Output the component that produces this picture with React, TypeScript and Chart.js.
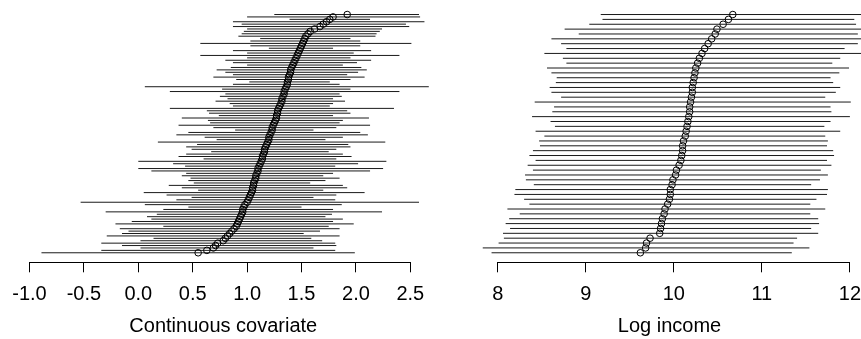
import React, { useEffect, useRef } from "react";
import { Chart, registerables } from "chart.js";

Chart.register(...registerables);

// ---------- Left panel: continuous covariate (rows 1 = bottom .. 100 = top) ----------
const covEst = [
  0.55, 0.63, 0.69, 0.71, 0.73, 0.78, 0.8, 0.82, 0.84, 0.86,
  0.88, 0.9, 0.91, 0.92, 0.93, 0.94, 0.95, 0.96, 0.96, 0.97,
  0.98, 1.0, 1.01, 1.02, 1.03, 1.04, 1.05, 1.05, 1.06, 1.06,
  1.07, 1.08, 1.08, 1.09, 1.1, 1.1, 1.11, 1.12, 1.13, 1.14,
  1.14, 1.15, 1.16, 1.16, 1.17, 1.18, 1.19, 1.2, 1.2, 1.21,
  1.22, 1.23, 1.23, 1.24, 1.25, 1.26, 1.27, 1.27, 1.28, 1.28,
  1.29, 1.3, 1.31, 1.32, 1.32, 1.33, 1.34, 1.34, 1.35, 1.36,
  1.37, 1.37, 1.38, 1.38, 1.39, 1.4, 1.4, 1.41, 1.42, 1.43,
  1.44, 1.45, 1.46, 1.47, 1.48, 1.49, 1.5, 1.51, 1.52, 1.53,
  1.54, 1.56, 1.58, 1.62, 1.67, 1.7, 1.73, 1.76, 1.79, 1.92,
];
const covLow = [
  -0.89, -0.34, 0.02, -0.15, -0.34, 0.02, 0.14, -0.29, -0.15, -0.09,
  -0.17, 0.23, -0.21, -0.06, 0.12, 0.08, 0.17, -0.3, 0.23, 0.46,
  0.06, -0.53, 0.35, 0.49, 0.26, 0.05, 0.55, 0.4, 0.28, 0.51,
  0.46, 0.48, 0.4, 0.44, 0.12, 0.0, 0.43, 0.32, 0.0, 0.6,
  0.37, 0.44, 0.67, 0.49, 0.44, 0.54, 0.18, 0.72, 0.61, 0.35,
  0.46, 0.89, 0.69, 0.37, 0.66, 0.64, 0.4, 0.74, 0.65, 0.63,
  0.29, 0.87, 0.84, 0.71, 0.82, 0.75, 0.8, 0.29, 0.77, 0.06,
  0.87, 1.02, 0.9, 0.69, 0.87, 0.8, 0.72, 0.85, 1.0, 0.87,
  0.8, 1.0, 0.57, 1.0, 0.87, 1.2, 1.03, 0.57, 1.03, 1.12,
  0.92, 0.95, 0.97, 1.0, 0.87, 0.95, 0.87, 1.39, 1.0, 1.25,
];
const covHigh = [
  1.99, 1.81, 1.61, 1.82, 1.81, 1.69, 1.59, 1.85, 1.52, 1.67,
  1.85, 1.75, 1.98, 1.79, 1.88, 1.72, 1.78, 2.24, 1.79, 1.5,
  1.87, 2.58, 1.81, 1.61, 1.82, 2.08, 1.7, 1.92, 1.88, 1.58,
  1.72, 1.85, 1.7, 1.79, 2.13, 2.25, 1.81, 2.02, 2.28, 1.82,
  1.96, 1.88, 1.75, 1.82, 1.95, 1.93, 2.27, 1.72, 1.88, 2.11,
  2.04, 1.61, 1.82, 2.13, 1.85, 1.88, 2.12, 1.79, 1.95, 1.92,
  2.35, 1.76, 1.79, 1.9, 1.79, 1.87, 1.85, 2.4, 1.95, 2.67,
  1.85, 1.76, 1.95, 2.08, 1.92, 2.02, 2.1, 2.05, 1.88, 2.01,
  2.14, 1.95, 2.4, 1.98, 2.14, 1.79, 2.04, 2.51, 2.04, 1.95,
  2.18, 2.19, 2.22, 2.24, 2.49, 2.46, 2.63, 2.13, 2.59, 2.58,
];
const covTicks = [-1.0, -0.5, 0.0, 0.5, 1.0, 1.5, 2.0, 2.5];
const covTitle = "Continuous covariate";

// ---------- Right panel: log income (rows 1 = bottom .. 50 = top) ----------
const incEst = [
  9.62, 9.68, 9.69, 9.73, 9.84, 9.85, 9.86, 9.87, 9.89, 9.9,
  9.93, 9.95, 9.96, 9.96, 9.98, 9.99, 10.02, 10.03, 10.06, 10.08,
  10.09, 10.1, 10.1, 10.11, 10.13, 10.14, 10.15, 10.16, 10.17, 10.18,
  10.18, 10.19, 10.2, 10.21, 10.21, 10.22, 10.23, 10.24, 10.25, 10.27,
  10.29, 10.32, 10.35, 10.39, 10.43, 10.47, 10.49, 10.56, 10.62, 10.67,
];
const incLow = [
  7.93, 7.83, 8.01, 8.07, 8.06, 8.14, 8.09, 8.13, 8.25, 8.11,
  8.36, 8.3, 8.19, 8.2, 8.41, 8.32, 8.31, 8.4, 8.34, 8.43,
  8.36, 8.4, 8.48, 8.47, 8.53, 8.43, 8.65, 8.6, 8.39, 8.62,
  8.64, 8.42, 8.72, 8.61, 8.59, 8.66, 8.67, 8.61, 8.56, 8.78,
  8.74, 8.53, 8.78, 8.72, 8.61, 8.92, 8.76, 9.04, 9.19, 9.17,
];
const incHigh = [
  11.34, 11.54, 11.36, 11.4, 11.64, 11.56, 11.65, 11.64, 11.55, 11.72,
  11.55, 11.62, 11.74, 11.75, 11.56, 11.66, 11.75, 11.67, 11.79, 11.74,
  11.82, 11.81, 11.74, 11.75, 11.72, 11.89, 11.71, 11.78, 12.0, 11.79,
  11.78, 12.01, 11.72, 11.84, 11.89, 11.81, 11.78, 11.88, 11.99, 11.8,
  11.89, 12.16, 11.94, 12.09, 12.24, 12.09, 12.21, 12.07, 12.05, 12.18,
];
const incTicks = [8, 9, 10, 11, 12];
const incTitle = "Log income";

const FONT = "'Liberation Sans', Arial, Helvetica, sans-serif";

function alignPx(p: number, w: number) {
  const h = w / 2;
  return Math.round(p - h) + h;
}

// R-style axis line: drawn only between the first and last tick
const rAxisLine = {
  id: "rAxisLine",
  afterDraw(chart: any) {
    const s = chart.scales.x;
    if (!s || !s.ticks || !s.ticks.length) return;
    const ctx = chart.ctx;
    const x0 = alignPx(s.getPixelForValue(s.ticks[0].value), 1);
    const x1 = alignPx(s.getPixelForValue(s.ticks[s.ticks.length - 1].value), 1);
    const y = alignPx(s.top, 1);
    ctx.save();
    ctx.strokeStyle = "#000";
    ctx.lineWidth = 1;
    ctx.beginPath();
    ctx.moveTo(x0 - 0.5, y);
    ctx.lineTo(x1 + 0.5, y);
    ctx.stroke();
    ctx.restore();
  },
};

type PanelProps = {
  est: number[];
  low: number[];
  high: number[];
  ticks: number[];
  decimals: number;
  title: string;
  xMin: number;
  xMax: number;
  left: number;
  width: number;
  padLeft: number;
  padRight: number;
};

function Panel(p: PanelProps) {
  const ref = useRef<HTMLCanvasElement | null>(null);
  useEffect(() => {
    if (!ref.current) return;
    const n = p.est.length;
    const ext = (n - 1) * 0.04;
    const segs: any[] = [];
    p.low.forEach((l, i) => {
      segs.push({ x: l, y: i + 1 }, { x: p.high[i], y: i + 1 }, { x: null, y: null });
    });
    const pts = p.est.map((v, i) => ({ x: v, y: i + 1 }));
    const chart = new Chart(ref.current, {
      type: "scatter",
      data: {
        datasets: [
          {
            data: pts,
            showLine: false,
            pointRadius: 3.3,
            pointStyle: "circle",
            pointBorderColor: "#000",
            pointBackgroundColor: "rgba(0,0,0,0)",
            pointBorderWidth: 1,
            order: 0,
          } as any,
          {
            data: segs,
            showLine: true,
            spanGaps: false,
            pointRadius: 0,
            borderColor: "#1a1a1a",
            borderWidth: 1,
            order: 1,
          } as any,
        ],
      },
      options: {
        animation: false,
        responsive: false,
        events: [],
        layout: { padding: { left: p.padLeft, right: p.padRight, top: 0, bottom: 0 } },
        plugins: { legend: { display: false }, tooltip: { enabled: false } },
        scales: {
          y: { type: "linear", display: false, min: 1 - ext, max: n + ext },
          x: {
            type: "linear",
            min: p.xMin,
            max: p.xMax,
            afterBuildTicks: (s: any) => {
              s.ticks = p.ticks.map((v) => ({ value: v }));
            },
            grid: {
              display: true,
              drawOnChartArea: false,
              drawTicks: true,
              tickLength: 10,
              color: "#000",
              lineWidth: 1,
            },
            border: { display: false },
            ticks: {
              autoSkip: false,
              maxRotation: 0,
              minRotation: 0,
              padding: 9.7,
              color: "#000",
              font: { family: FONT, size: 20, lineHeight: 1.2 },
              callback: (v: any) => Number(v).toFixed(p.decimals),
            },
            title: {
              display: true,
              text: p.title,
              color: "#000",
              font: { family: FONT, size: 20, lineHeight: 1.1 },
              padding: { top: 0.1, bottom: 1.2 },
            },
          },
        },
      },
      plugins: [rAxisLine],
    });
    return () => chart.destroy();
  }, []);
  return (
    <canvas
      ref={ref}
      width={p.width}
      height={339}
      style={{ position: "absolute", left: p.left, top: 0, width: p.width, height: 339 }}
    />
  );
}

export default function App() {
  return (
    <div
      style={{
        position: "fixed",
        left: 0,
        top: 0,
        width: 861,
        height: 339,
        overflow: "hidden",
        background: "#fff",
      }}
    >
      <Panel
        est={covEst}
        low={covLow}
        high={covHigh}
        ticks={covTicks}
        decimals={1}
        title={covTitle}
        xMin={-1.1186}
        xMax={2.681}
        left={0}
        width={440}
        padLeft={16.6}
        padRight={10}
      />
      <Panel
        est={incEst}
        low={incLow}
        high={incHigh}
        ticks={incTicks}
        decimals={0}
        title={incTitle}
        xMin={7.776}
        xMax={12.126}
        left={440}
        width={440}
        padLeft={38}
        padRight={19}
      />
    </div>
  );
}
